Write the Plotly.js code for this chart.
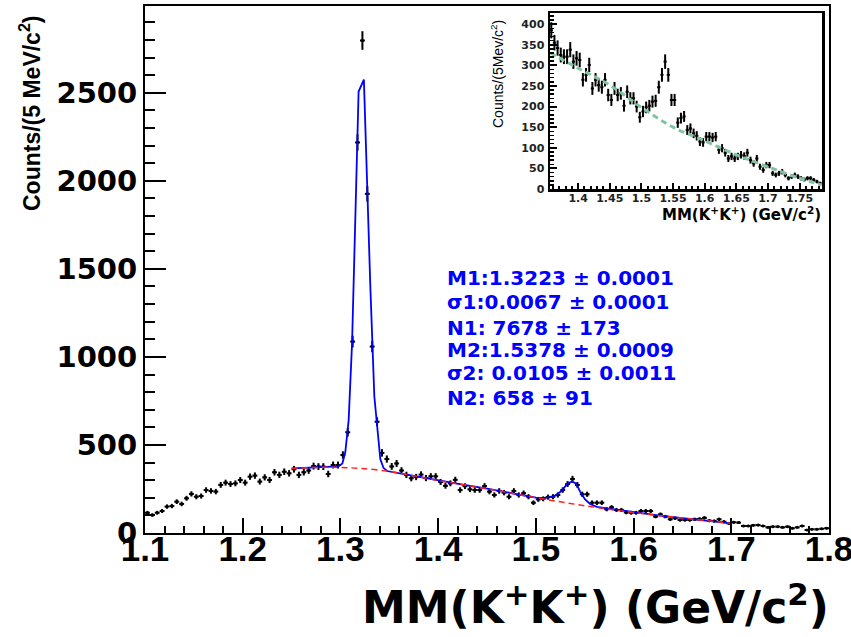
<!DOCTYPE html>
<html>
<head>
<meta charset="utf-8">
<script src="https://cdn.plot.ly/plotly-3.0.1.min.js"></script>
<style>html,body{margin:0;padding:0;background:#fff}#chart{width:851px;height:637px}</style>
</head>
<body>
<div id="chart"></div>
<script>
// ---- main histogram: 5 MeV bins from 1.100 to 1.800 GeV ----
const binStart = 1.10;
const binWidth = 0.005;
const mainCounts = [
 115,102,115,125,150,153,178,165,197,222,
 206,210,244,239,235,273,286,278,282,301,
 286,320,326,292,316,301,345,330,348,339,
 362,330,345,355,380,377,377,335,386,386,
 443,572,1087,2218,2797,1926,1059,632,455,420,
 378,395,355,330,311,318,332,312,322,322,
 290,268,282,302,244,266,248,244,244,267,
 235,216,239,229,206,239,216,226,206,172,
 191,194,204,206,216,244,278,307,273,220,
 220,172,172,172,135,146,131,131,117,115,
 115,125,125,125,93,106,93,78,84,74,
 74,74,78,80,86,70,68,78,64,55,
 61,59,40,40,44,45,40,32,36,36,
 32,36,27,32,40,17,21,21,24,27
];
// total fit (blue)
const fitX = [1.250,1.270,1.290,1.298,1.302,1.305,1.3084,1.3119,1.3152,1.3186,1.3240,1.3272,1.3306,1.3347,1.3380,1.3408,1.3440,1.3477,1.375,1.400,1.425,1.450,1.475,1.500,1.510,1.518,1.5266,1.5317,1.5368,1.5412,1.5453,1.5504,1.5555,1.5624,1.5726,1.600,1.625,1.650,1.675,1.700];
const fitY = [367,373,376,378,395,460,640,1078,1778,2507,2575,1968,1400,775,557,420,370,352,325,298,275,252,226,201,200,206,240,277,292,282,235,191,165,148,140,117,100,85,70,55];
// background (red dashed)
const bgX = [1.25,1.28,1.30,1.32,1.35,1.375,1.40,1.425,1.45,1.475,1.50,1.525,1.55,1.575,1.60,1.625,1.65,1.675,1.70];
const bgY = [367,373,372,367,350,325,298,275,252,226,200,177,155,135,117,100,85,70,55];

// ---- inset histogram: 5 MeV bins from 1.355 ----
const insetStart = 1.355;
const insetCounts = [
 385,355,342,325,321,321,338,309,317,313,
 265,277,301,244,265,252,247,265,228,216,
 244,228,232,202,236,220,220,200,174,188,
 198,202,212,214,247,277,309,277,216,216,
 161,172,176,143,147,135,129,115,113,127,
 127,125,127,95,99,88,74,79,74,79,
 83,80,88,70,62,74,54,46,58,58,
 38,34,38,42,34,26,30,34,30,26,
 23,26,26,22,18,14
];
const insetBgX = [1.356,1.40,1.45,1.50,1.55,1.60,1.65,1.70,1.75,1.785];
const insetBgY = [330,293,252,198,150,117,83,54,26,10];

const fitText = [
 "M1:1.3223 \u00b1 0.0001",
 "\u03c31:0.0067 \u00b1 0.0001",
 "N1: 7678 \u00b1 173",
 "M2:1.5378 \u00b1 0.0009",
 "\u03c32: 0.0105 \u00b1 0.0011",
 "N2: 658 \u00b1 91"
];
const yTicks = [0,500,1000,1500,2000,2500];
const xTicks = [1.1,1.2,1.3,1.4,1.5,1.6,1.7,1.8];
const xTickText = ['1.1','1.2','1.3','1.4','1.5','1.6','1.7','1.8'];
const insetXTicks = [1.4,1.45,1.5,1.55,1.6,1.65,1.7,1.75];
const insetXTickText = ['1.4','1.45','1.5','1.55','1.6','1.65','1.7','1.75'];
const insetYTicks = [0,50,100,150,200,250,300,350,400];

function centers(start, n) { const a=[]; for (let i=0;i<n;i++) a.push(+(start+binWidth*(i+0.5)).toFixed(4)); return a; }
const mainX = centers(binStart, mainCounts.length);
const insetX = centers(insetStart, insetCounts.length);

const traces = [
 {x: mainX, y: mainCounts, type:'scatter', mode:'markers', marker:{size:3,color:'black'},
  error_y:{type:'sqrt', color:'black', thickness:2, width:0},
  error_x:{type:'constant', value:binWidth/2, color:'black', thickness:2, width:0},
  xaxis:'x', yaxis:'y', hoverinfo:'skip'},
 {x: fitX, y: fitY, type:'scatter', mode:'lines', line:{color:'#0000ff', width:1.8}, xaxis:'x', yaxis:'y'},
 {x: bgX, y: bgY, type:'scatter', mode:'lines', line:{color:'#ff2020', width:1.5, dash:'6px,4px', shape:'spline'}, xaxis:'x', yaxis:'y'},
 {x: insetX, y: insetCounts, type:'scatter', mode:'markers', marker:{size:2,color:'black'},
  error_y:{type:'sqrt', color:'black', thickness:2, width:0},
  error_x:{type:'constant', value:binWidth/2, color:'black', thickness:2, width:0},
  xaxis:'x2', yaxis:'y2'},
 {x: insetBgX, y: insetBgY, type:'scatter', mode:'lines', line:{color:'#7fc4a0', width:3, dash:'6px,4px', shape:'spline'}, xaxis:'x2', yaxis:'y2'}
];

const W=851, H=637, L=145, R=22, T=6, B=104;
const pw = W-L-R, ph = H-T-B;
const px = v => (v-L)/pw;
const py = v => (H-B-v)/ph;

const annotations = fitText.map((t,i)=>({
  text:t, xref:'paper', yref:'paper', x:px(445), y:py([278,302,328,350,373,398][i]),
  xanchor:'left', yanchor:'middle', showarrow:false,
  font:{family:'DejaVu Sans', size:20, color:'#0000ff', weight:'bold'}
}));
annotations.push({
  text:'Counts/(5 MeV/c<sup>2</sup>)', xref:'paper', yref:'paper', x:px(30), y:py(113),
  xanchor:'center', yanchor:'middle', textangle:-90, showarrow:false,
  font:{family:'Liberation Sans', size:23, color:'black', weight:'bold'}
});
annotations.push({
  text:'MM(K<sup>+</sup>K<sup>+</sup>) (GeV/c<sup>2</sup>)', xref:'paper', yref:'paper', x:px(831), y:py(604),
  xanchor:'right', yanchor:'middle', showarrow:false,
  font:{family:'DejaVu Sans', size:44, color:'black', weight:'bold'}
});
annotations.push({
  text:'MM(K<sup>+</sup>K<sup>+</sup>) (GeV/c<sup>2</sup>)', xref:'paper', yref:'paper', x:px(823), y:py(214),
  xanchor:'right', yanchor:'middle', showarrow:false,
  font:{family:'DejaVu Sans', size:15, color:'black', weight:'bold'}
});
annotations.push({
  text:'Counts/(5Mev/c<sup>2</sup>)', xref:'paper', yref:'paper', x:px(497), y:py(74),
  xanchor:'center', yanchor:'middle', textangle:-90, showarrow:false,
  font:{family:'Liberation Sans', size:14, color:'black'}
});

const layout = {
  width:W, height:H, margin:{l:L, r:R, t:T, b:B}, showlegend:false,
  paper_bgcolor:'white', plot_bgcolor:'white',
  xaxis:{range:[1.1,1.8], tickvals:xTicks, ticktext:xTickText, ticks:'inside', ticklen:15, tickwidth:2, tickcolor:'black',
    minor:{dtick:0.02, tick0:1.1, ticks:'inside', ticklen:7, tickwidth:2, tickcolor:'black', showgrid:false},
    showline:true, mirror:true, linewidth:2, linecolor:'black', showgrid:false, zeroline:false,
    ticklabeloverflow:'allow',
    tickfont:{family:'Liberation Sans', size:35, color:'black', weight:'bold'}, ticklabelstandoff:-16},
  yaxis:{range:[0,2993], tickvals:yTicks, ticks:'inside', ticklen:21, tickwidth:2, tickcolor:'black',
    minor:{dtick:100, ticks:'inside', ticklen:10, tickwidth:2, tickcolor:'black', showgrid:false},
    showline:true, mirror:true, linewidth:2, linecolor:'black', showgrid:false, zeroline:false,
    tickfont:{family:'DejaVu Sans', size:29, color:'black', weight:'bold'}, ticklabelstandoff:0},
  xaxis2:{domain:[px(550), px(822)], anchor:'y2', range:[1.3555,1.7855], tickvals:insetXTicks, ticktext:insetXTickText,
    ticks:'inside', ticklen:6, tickwidth:2, tickcolor:'black',
    minor:{dtick:0.01, tick0:1.4, ticks:'inside', ticklen:3, tickwidth:2, tickcolor:'black', showgrid:false},
    showline:true, mirror:true, linewidth:2.5, linecolor:'black', showgrid:false, zeroline:false,
    tickfont:{family:'DejaVu Sans', size:11, color:'#222', weight:'bold'}, ticklabelstandoff:-3},
  yaxis2:{domain:[py(189), py(13)], anchor:'x2', range:[0,427], tickvals:insetYTicks,
    ticks:'inside', ticklen:7, tickwidth:2, tickcolor:'black',
    minor:{dtick:10, ticks:'inside', ticklen:3.5, tickwidth:1.5, tickcolor:'black', showgrid:false},
    showline:true, mirror:true, linewidth:2.5, linecolor:'black', showgrid:false, zeroline:false,
    tickfont:{family:'DejaVu Sans', size:11, color:'#222', weight:'bold'}, ticklabelstandoff:1},
  annotations: annotations
};
Plotly.newPlot('chart', traces, layout, {staticPlot:true, displayModeBar:false});
</script>
</body>
</html>
